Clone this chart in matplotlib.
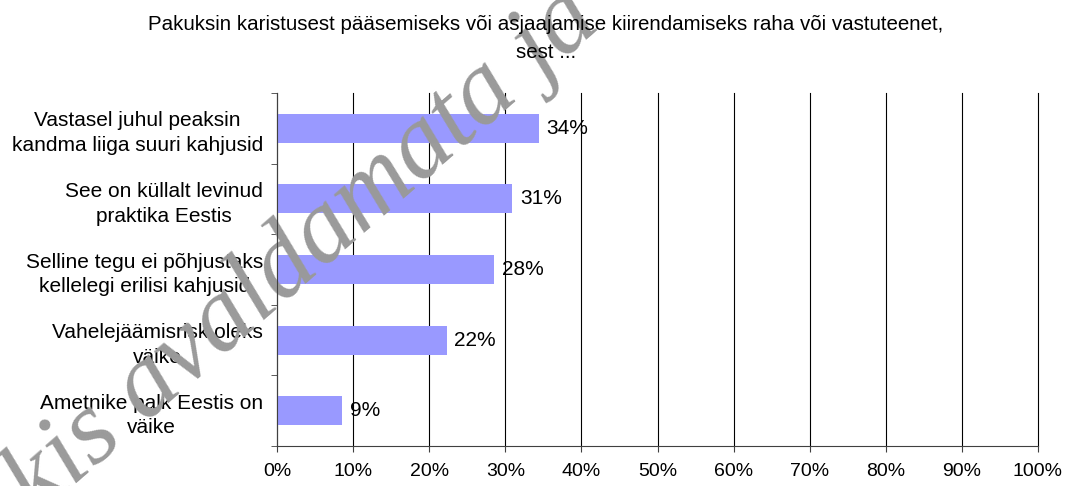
import numpy as np
import matplotlib.pyplot as plt

plt.rcParams['font.family'] = ['Liberation Sans', 'DejaVu Sans']

# Daten
kategorien = [
    "Vastasel juhul peaksin\nkandma liiga suuri kahjusid",
    "See on küllalt levinud\npraktika Eestis",
    "Selline tegu ei põhjustaks\nkellelegi erilisi kahjusid",
    "Vahelejäämisrisk oleks\nväike",
    "Ametnike palk Eestis on\nväike",
]
werte = [34.4, 30.9, 28.5, 22.3, 8.6]
beschriftung = ["34%", "31%", "28%", "22%", "9%"]
x_ticks = list(range(0, 101, 10))
titel = "Pakuksin karistusest pääsemiseks või asjaajamise kiirendamiseks raha või vastuteenet,\nsest ..."

fig = plt.figure(figsize=(10.66, 4.86), dpi=100)
ax = fig.add_axes([277 / 1066, 1 - 446 / 486, (1038 - 277) / 1066, (446 - 93) / 486])

y = np.arange(len(kategorien))[::-1]
ax.barh(y, werte, height=0.41, color='#9999FF', zorder=1)

for yi, w, lab in zip(y, werte, beschriftung):
    ax.annotate(lab, (w, yi), xytext=(5.5, 0), textcoords='offset points',
                va='center', ha='left', fontsize=15, zorder=4)

ax.set_xlim(0, 100)
ax.set_ylim(-0.5, len(kategorien) - 0.5)
ax.set_xticks(x_ticks)
ax.set_xticklabels([f"{t}%" for t in x_ticks], fontsize=14)
ax.set_yticks(y)
ax.set_yticklabels(kategorien, fontsize=15, multialignment='center', linespacing=1.38)
ax.set_yticks(np.arange(-0.5, len(kategorien)), minor=True)
ax.tick_params(axis='y', which='major', length=0, pad=10)
ax.tick_params(axis='y', which='minor', length=4, direction='out', color='#404040')
ax.tick_params(axis='x', length=4, direction='out', color='#404040', pad=8)

ax.grid(axis='x', color='black', linewidth=0.8, zorder=0)
for gl in ax.get_xgridlines():
    gl.set_clip_on(False)
ax.set_axisbelow(True)
for s in ['top', 'right']:
    ax.spines[s].set_visible(False)
for s in ['left', 'bottom']:
    ax.spines[s].set_color('#404040')

# Wasserzeichen (im Original schräg über das Diagramm gelegt)
ax.text(0.285, 0.48, "kis avaldamata ja", transform=fig.transFigure, rotation=41,
        ha='center', va='center', fontsize=76, style='italic', family='Liberation Serif',
        color='#9a9a9a', clip_on=False, zorder=1.2)

fig.text(0.512, 0.97, titel, ha='center', va='top', fontsize=14.8, linespacing=1.66, zorder=5)

fig.savefig('out.png', dpi=100)
